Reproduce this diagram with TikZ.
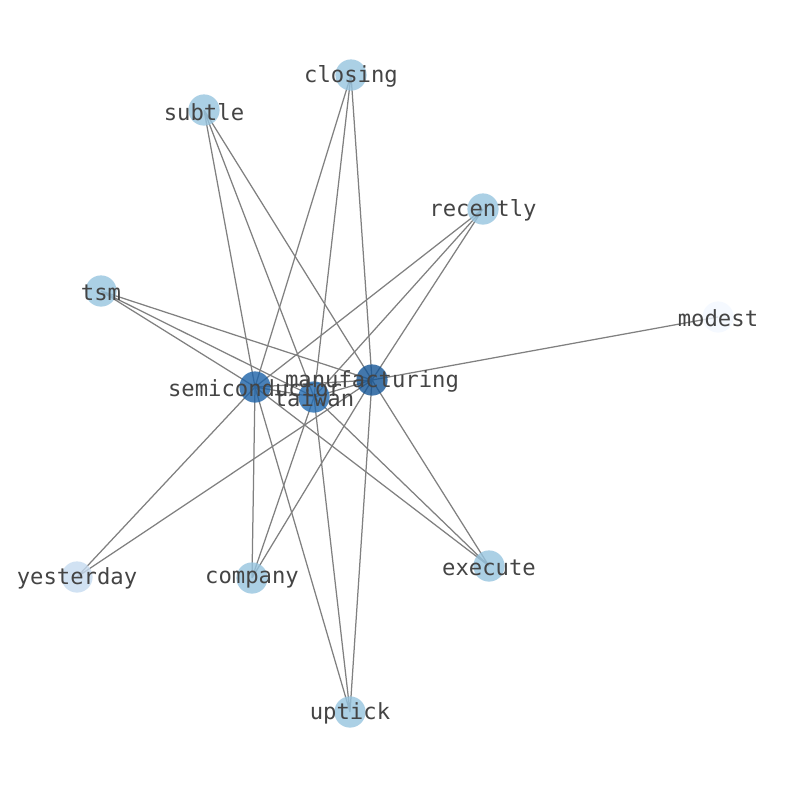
\documentclass[tikz,border=0pt]{standalone}
\usepackage{fontspec}
\setmonofont{DejaVu Sans Mono}
\usepackage{tikz}
\usetikzlibrary{backgrounds}
\usepackage{xcolor}

\definecolor{mandark}{RGB}{20,85,150}
\definecolor{semblue}{RGB}{28,98,168}
\definecolor{taiblue}{RGB}{34,106,176}
\definecolor{leafblue}{RGB}{150,196,223}
\definecolor{paleblue}{RGB}{198,219,240}
\definecolor{faintblue}{RGB}{243,248,255}
\definecolor{labelgray}{RGB}{68,68,68}

\begin{document}
\begin{tikzpicture}[
    x=0.72pt, y=-0.72pt,
    word/.style={circle, draw=none, fill opacity=0.8, minimum size=22.5pt, inner sep=0pt},
    tag/.style={text=labelgray, font=\ttfamily\fontsize{16}{16}\selectfont, inner sep=0pt, yshift=-1.2pt},
    edge/.style={draw=black!50, line width=0.9pt}
]
    \useasboundingbox (0,0) rectangle (794,790);

    % Central words
    \node[word, fill=semblue] (semi) at (255,387) {};
    \node[word, fill=taiblue] (taiw) at (314,397) {};
    \node[word, fill=mandark] (manu) at (372,380) {};

    % Outer words
    \node[word, fill=leafblue] (clos) at (351,75) {};
    \node[word, fill=leafblue] (subt) at (204,110) {};
    \node[word, fill=leafblue] (rece) at (483,209) {};
    \node[word, fill=leafblue] (tsm) at (101,291) {};
    \node[word, fill=faintblue] (mode) at (718,317) {};
    \node[word, fill=paleblue] (yest) at (77,577) {};
    \node[word, fill=leafblue] (comp) at (252,578) {};
    \node[word, fill=leafblue] (exec) at (489,566) {};
    \node[word, fill=leafblue] (upti) at (350,712) {};

    % Edges (behind the words)
    \begin{scope}[on background layer]
        \draw[edge] (semi.center) -- (taiw.center) -- (manu.center) -- (semi.center);
        \draw[edge] (clos.center) -- (semi.center) (clos.center) -- (taiw.center) (clos.center) -- (manu.center);
        \draw[edge] (subt.center) -- (semi.center) (subt.center) -- (taiw.center) (subt.center) -- (manu.center);
        \draw[edge] (rece.center) -- (semi.center) (rece.center) -- (taiw.center) (rece.center) -- (manu.center);
        \draw[edge] (tsm.center) -- (semi.center) (tsm.center) -- (taiw.center) (tsm.center) -- (manu.center);
        \draw[edge] (comp.center) -- (semi.center) (comp.center) -- (taiw.center) (comp.center) -- (manu.center);
        \draw[edge] (exec.center) -- (semi.center) (exec.center) -- (taiw.center) (exec.center) -- (manu.center);
        \draw[edge] (upti.center) -- (semi.center) (upti.center) -- (taiw.center) (upti.center) -- (manu.center);
        \draw[edge] (yest.center) -- (semi.center) (yest.center) -- (manu.center);
        \draw[edge] (mode.center) -- (manu.center);
    \end{scope}

    % Labels
    \node[tag] (semi-l) at (semi) {semiconductor};
    \node[tag] (taiw-l) at (taiw) {taiwan};
    \node[tag] (manu-l) at (manu) {manufacturing};
    \node[tag] (clos-l) at (clos) {closing};
    \node[tag] (subt-l) at (subt) {subtle};
    \node[tag] (rece-l) at (rece) {recently};
    \node[tag] (tsm-l) at (tsm) {tsm};
    \node[tag] (mode-l) at (mode) {modest};
    \node[tag] (yest-l) at (yest) {yesterday};
    \node[tag] (comp-l) at (comp) {company};
    \node[tag] (exec-l) at (exec) {execute};
    \node[tag] (upti-l) at (upti) {uptick};

\end{tikzpicture}
\end{document}
